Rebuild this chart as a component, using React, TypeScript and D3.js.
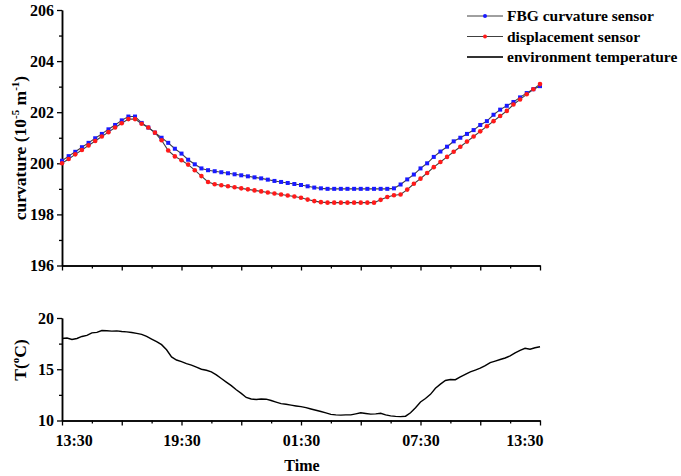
import React, { useRef, useEffect } from 'react';
import * as d3 from 'd3';

// curvature, one sample every 20 min from 13:30 (index / 3 = hours)
const fbgCurvature = [
  200.1, 200.28, 200.45, 200.63, 200.8, 200.98, 201.15, 201.33, 201.5, 201.68, 201.83, 201.83,
  201.58, 201.4, 201.2, 201.0, 200.8, 200.57, 200.38, 200.14, 199.96, 199.8,
  199.73, 199.69, 199.65, 199.61, 199.57, 199.53, 199.49, 199.45, 199.41, 199.36, 199.31, 199.27, 199.23, 199.19, 199.15,
  199.1, 199.05, 199.02, 199.0, 199.0, 199.0, 199.0, 199.0, 199.0, 199.0, 199.0, 199.0, 199.0,
  199.02, 199.17, 199.37, 199.56, 199.8, 200.0, 200.25, 200.46, 200.65,
  200.86, 201.0, 201.15, 201.3, 201.5, 201.65, 201.9, 202.1, 202.25, 202.4, 202.58, 202.75, 202.9, 203.02,
];
const dispCurvature = [
  200.0, 200.17, 200.35, 200.52, 200.7, 200.87, 201.05, 201.22, 201.4, 201.57, 201.73, 201.73,
  201.55, 201.4, 201.2, 200.9, 200.5, 200.27, 200.12, 199.95, 199.73, 199.5, 199.27, 199.18,
  199.14, 199.1, 199.06, 199.02, 198.98, 198.94, 198.9, 198.86, 198.82, 198.78, 198.74, 198.7, 198.65, 198.58, 198.52, 198.48,
  198.46, 198.46, 198.46, 198.46, 198.46, 198.46, 198.46, 198.46,
  198.57, 198.68, 198.75, 198.78, 198.97, 199.2, 199.4, 199.62, 199.85, 200.05, 200.25,
  200.45, 200.65, 200.85, 201.05, 201.25, 201.45, 201.65, 201.85, 202.05, 202.3, 202.5, 202.7, 202.9, 203.1,
];
// environment temperature, one sample every 15 min (index / 4 = hours)
const temperature = [
  18.0, 18.05, 17.9, 18.0, 18.2, 18.3, 18.55, 18.6, 18.78, 18.75, 18.72, 18.74,
  18.68, 18.65, 18.58, 18.5, 18.4, 18.2, 17.95, 17.7, 17.4, 16.9, 16.2, 15.9,
  15.75, 15.55, 15.4, 15.2, 15.0, 14.9, 14.75, 14.45, 14.1, 13.75, 13.4, 13.0,
  12.65, 12.25, 12.1, 12.05, 12.1, 12.08, 11.95, 11.8, 11.65, 11.58, 11.5, 11.42,
  11.35, 11.25, 11.12, 11.0, 10.88, 10.75, 10.6, 10.55, 10.52, 10.55, 10.55, 10.65,
  10.75, 10.68, 10.62, 10.65, 10.7, 10.55, 10.45, 10.4, 10.38, 10.42, 10.75, 11.25,
  11.8, 12.15, 12.55, 13.15, 13.55, 13.9, 14.0, 13.98, 14.25, 14.5, 14.75, 14.92,
  15.1, 15.35, 15.65, 15.8, 15.95, 16.1, 16.3, 16.6, 16.85, 17.05, 16.95, 17.1,
  17.2,
];
const timeLabels = ['13:30', '19:30', '01:30', '07:30', '13:30'];
const legendNames = ['FBG curvature sensor', 'displacement sensor', 'environment temperature'];

const FONT = '"Liberation Serif", "Times New Roman", serif';

const App = () => {
  const svgRef = useRef<SVGSVGElement>(null);

  useEffect(() => {
    const svg = d3.select(svgRef.current);
    svg.selectAll('*').remove();

    const x = d3.scaleLinear().domain([0, 24]).range([62, 540]);
    const yTop = d3.scaleLinear().domain([196, 206]).range([265.5, 10]);
    const yBot = d3.scaleLinear().domain([10, 20]).range([420.5, 318]);

    const styleAxis = (g) => {
      g.select('.domain').attr('stroke', '#000').attr('stroke-width', 1.5);
      g.selectAll('.tick line').attr('stroke', '#000').attr('stroke-width', 1.3);
      g.selectAll('.tick text')
        .attr('font-family', FONT).attr('font-weight', 'bold')
        .attr('font-size', 16).attr('fill', '#000');
    };

    // top panel axes
    svg.append('g').attr('transform', 'translate(62,0)')
      .call(d3.axisLeft(yTop).tickValues([197, 199, 201, 203, 205]).tickSize(3).tickSizeOuter(0).tickFormat(() => ''))
      .call(styleAxis);
    svg.append('g').attr('transform', 'translate(62,0)')
      .call(d3.axisLeft(yTop).tickValues([196, 198, 200, 202, 204, 206]).tickSize(5).tickPadding(3).tickSizeOuter(0))
      .call(styleAxis);
    svg.append('g').attr('transform', 'translate(0,265.5)')
      .call(d3.axisBottom(x).tickValues(d3.range(1.5, 24, 3)).tickSize(3).tickSizeOuter(0).tickFormat(() => ''))
      .call(styleAxis);
    svg.append('g').attr('transform', 'translate(0,265.5)')
      .call(d3.axisBottom(x).tickValues(d3.range(0, 25, 3)).tickSize(5).tickSizeOuter(0).tickFormat(() => ''))
      .call(styleAxis);

    // bottom panel axes
    svg.append('g').attr('transform', 'translate(62,0)')
      .call(d3.axisLeft(yBot).tickValues([12.5, 17.5]).tickSize(3).tickSizeOuter(0).tickFormat(() => ''))
      .call(styleAxis);
    svg.append('g').attr('transform', 'translate(62,0)')
      .call(d3.axisLeft(yBot).tickValues([10, 15, 20]).tickSize(5).tickPadding(3).tickSizeOuter(0))
      .call(styleAxis);
    svg.append('g').attr('transform', 'translate(0,420.5)')
      .call(d3.axisBottom(x).tickValues(d3.range(1.5, 24, 3)).tickSize(3).tickSizeOuter(0).tickFormat(() => ''))
      .call(styleAxis);
    const xAxis = svg.append('g').attr('transform', 'translate(0,420.5)')
      .call(d3.axisBottom(x).tickValues(d3.range(0, 25, 3)).tickSize(5).tickSizeOuter(0)
        .tickFormat((d) => (d % 6 === 0 ? timeLabels[d / 6] : '')))
      .call(styleAxis);
    xAxis.selectAll('.tick text').attr('dy', '1.1em');
    // edge labels are pulled inside like in the original
    xAxis.selectAll('.tick text').filter((d) => d === 0).attr('text-anchor', 'start').attr('x', -7);
    xAxis.selectAll('.tick text').filter((d) => d === 24).attr('text-anchor', 'end').attr('x', 3);

    // axis titles
    const yTitle = svg.append('text')
      .attr('transform', 'translate(26,148) rotate(-90)')
      .attr('text-anchor', 'middle')
      .attr('font-family', FONT).attr('font-weight', 'bold').attr('font-size', 17.5);
    yTitle.append('tspan').text('curvature (10');
    yTitle.append('tspan').attr('font-size', 11).attr('dy', -7).text('-5');
    yTitle.append('tspan').attr('dy', 7).text(' m');
    yTitle.append('tspan').attr('font-size', 11).attr('dy', -7).text('-1');
    yTitle.append('tspan').attr('dy', 7).text(')');

    const tTitle = svg.append('text')
      .attr('transform', 'translate(26,360) rotate(-90)')
      .attr('text-anchor', 'middle')
      .attr('font-family', FONT).attr('font-weight', 'bold').attr('font-size', 17.5);
    tTitle.append('tspan').text('T(');
    tTitle.append('tspan').attr('font-size', 11).attr('dy', -7).text('o');
    tTitle.append('tspan').attr('dy', 7).text('C)');

    svg.append('text')
      .attr('x', 302).attr('y', 471)
      .attr('text-anchor', 'middle')
      .attr('font-family', FONT).attr('font-weight', 'bold').attr('font-size', 16)
      .text('Time');

    // curvature lines with markers
    const lineTop = d3.line<number>().x((d, i) => x(i / 3)).y((d) => yTop(d));
    svg.append('path').datum(fbgCurvature)
      .attr('d', lineTop).attr('fill', 'none').attr('stroke', '#404040').attr('stroke-width', 1.1);
    svg.append('path').datum(dispCurvature)
      .attr('d', lineTop).attr('fill', 'none').attr('stroke', '#404040').attr('stroke-width', 1.1);
    svg.selectAll('.fbg').data(fbgCurvature).join('rect')
      .attr('class', 'fbg')
      .attr('x', (d, i) => x(i / 3) - 2).attr('y', (d) => yTop(d) - 2)
      .attr('width', 4).attr('height', 4).attr('fill', '#1a1aff');
    svg.selectAll('.disp').data(dispCurvature).join('circle')
      .attr('class', 'disp')
      .attr('cx', (d, i) => x(i / 3)).attr('cy', (d) => yTop(d))
      .attr('r', 2.3).attr('fill', '#ff1a1a');

    // temperature line
    const lineBot = d3.line<number>().x((d, i) => x(i / 4)).y((d) => yBot(d));
    svg.append('path').datum(temperature)
      .attr('d', lineBot).attr('fill', 'none').attr('stroke', '#000').attr('stroke-width', 1.4);

    // legend
    const legendColors = ['#1a1aff', '#ff1a1a', null];
    legendNames.forEach((name, i) => {
      const ly = 16 + i * 20.5;
      svg.append('line')
        .attr('x1', 467).attr('x2', 503).attr('y1', ly).attr('y2', ly)
        .attr('stroke', i === 2 ? '#333' : '#404040')
        .attr('stroke-width', i === 2 ? 2 : 1);
      if (legendColors[i]) {
        svg.append('circle').attr('cx', 485).attr('cy', ly).attr('r', 2).attr('fill', legendColors[i]);
      }
      svg.append('text')
        .attr('x', 507).attr('y', ly + 5)
        .attr('font-family', FONT).attr('font-weight', 'bold').attr('font-size', 15.5)
        .text(name);
    });
  }, []);

  return (
    <svg ref={svgRef} width={681} height={476}
      style={{ position: 'absolute', left: 0, top: 0, background: '#fff' }} />
  );
};

export default App;
